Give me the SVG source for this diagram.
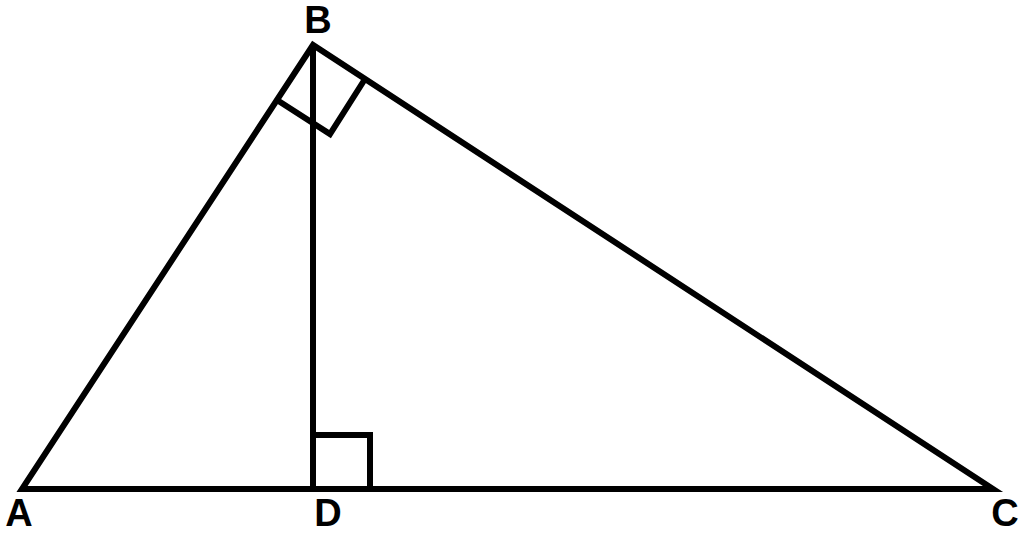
<svg xmlns="http://www.w3.org/2000/svg" width="1024" height="534" viewBox="0 0 1024 534">
<style>
.ln{fill:none;stroke:#000;stroke-width:6;stroke-linejoin:miter;stroke-linecap:butt}
.lb{font-family:"Liberation Sans",Arial,sans-serif;font-weight:bold;font-size:38px;fill:#000}
</style>
<rect width="1024" height="534" fill="#fff"/>
<g id="connectors">
<polygon class="ln" points="313,45 22,489 993,489"/>
<line class="ln" x1="313" y1="45" x2="313" y2="489"/>
<polyline class="ln" points="313,435 370,435 370,489"/>
<polyline class="ln" points="277,100 330,134 365,79"/>
</g>
<g id="node-B"><text class="lb" x="318" y="33" text-anchor="middle">B</text></g>
<g id="node-A"><text class="lb" x="19" y="526" text-anchor="middle">A</text></g>
<g id="node-D"><text class="lb" x="328" y="526" text-anchor="middle">D</text></g>
<g id="node-C"><text class="lb" x="1005" y="526" text-anchor="middle">C</text></g>
</svg>
